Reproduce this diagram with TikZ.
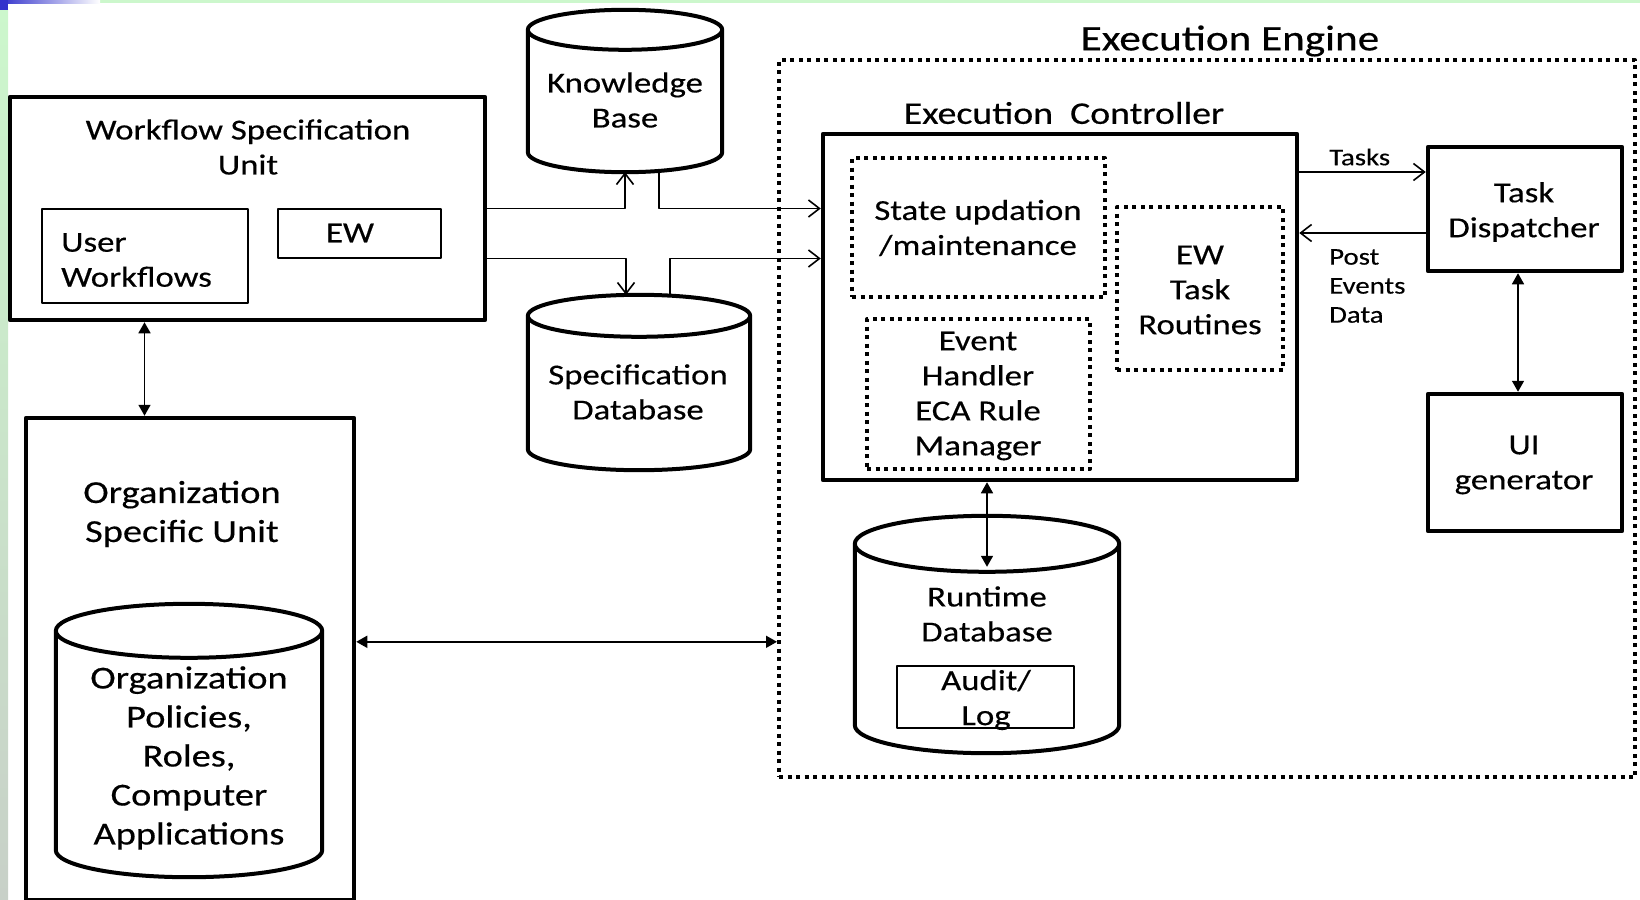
\documentclass[tikz,border=0pt]{standalone}
\usepackage{fontspec}
\setmainfont[FakeStretch=1.2, FakeBold=0.4]{Carlito}
\usetikzlibrary{arrows.meta,calc,fit}
\definecolor{slideblue}{RGB}{51,51,204}
\definecolor{slidegreen}{RGB}{204,247,204}
\definecolor{slidegray}{RGB}{200,208,200}
% outline of a database drum round a named node: #1 node, #2 half height of the lid
\newcommand{\dbdraw}[2]{%
  \draw[dbline] let \p1=(#1.north west), \p2=(#1.south east), \n1={(\x2-\x1)/2} in
    (\x1,\y1-#2) -- (\x1,\y2+#2) arc[start angle=180, end angle=360, x radius=\n1, y radius=#2]
    -- (\x2,\y1-#2) arc[start angle=0, end angle=360, x radius=\n1, y radius=#2];}
\begin{document}
\begin{tikzpicture}[x=1pt, y=-1pt, line join=round, >={Straight Barb[length=11pt,width=17pt]}]
  \tikzset{box/.style={draw, line width=4.5pt, inner sep=0pt},
    thinbox/.style={draw, line width=1.8pt, inner sep=0pt},
    dotbox/.style={draw, line width=4pt, dash pattern=on 4pt off 4.5pt, inner sep=0pt},
    dbnode/.style={inner sep=0pt},
    dbline/.style={line width=4pt},
    txt/.style={font=\fontsize{29}{35}\selectfont, align=center, inner sep=0pt},
    bigtxt/.style={font=\fontsize{32}{39}\selectfont, align=center, inner sep=0pt},
    smalltxt/.style={font=\fontsize{24}{29}\selectfont, align=left, inner sep=0pt, anchor=west},
    flow/.style={line width=1.6pt, ->},
    both/.style={line width=1.6pt, {Triangle[length=11pt,width=12pt]}-{Triangle[length=11pt,width=12pt]}}}
  \useasboundingbox (0,0) rectangle (1640,899);
  % slide border
  \fill[slidegreen] (100,0) rectangle (1640,3.5);
  \shade[left color=slideblue, right color=white] (0,0) rectangle (100,3.5);
  \shade[top color=slidegreen, bottom color=slidegray] (0,10) rectangle (8,899);
  \fill[slideblue] (0,0) rectangle (8,10);

  % workflow specification unit
  \node[box, fit={(10,97) (485,320)}] (wsu) {};
  \node[txt] (wsutitle) at (248,147) {Workflow Specification\\Unit};
  \node[thinbox, fit={(42,209) (248,303)}] (uw) {};
  \node[txt, anchor=west, align=left] (uwtext) at (61,260) {User\\Workflows};
  \node[thinbox, fit={(278,209) (441,258)}] (ew) {};
  \node[txt] (ewtext) at (350,233) {EW};

  % databases
  \node[dbnode, fit={(528,10) (722,172)}] (kb) {};
  \dbdraw{kb}{20pt}
  \node[txt] (kbtext) at (625,100) {Knowledge\\Base};
  \node[dbnode, fit={(528,295) (750,470)}] (sd) {};
  \dbdraw{sd}{21pt}
  \node[txt] (sdtext) at (638,392) {Specification\\Database};

  % execution engine
  \node[dotbox, fit={(779,60) (1635,777)}] (ee) {};
  \node[font=\fontsize{36}{40}\selectfont, inner sep=0pt] (eetitle) at (1230,41) {Execution Engine};
  \node[box, fit={(823,134) (1297,480)}] (ec) {};
  \node[font=\fontsize{31.5}{36}\selectfont, inner sep=0pt] (ectitle) at (1064,113) {Execution\ \ Controller};
  \node[dotbox, fit={(852,158) (1105,297)}] (su) {};
  \node[txt] (sutext) at (978,228) {State updation\\/maintenance};
  \node[dotbox, fit={(1117,207) (1283,370)}] (ewr) {};
  \node[txt] (ewrtext) at (1200,290) {EW\\Task\\Routines};
  \node[dotbox, fit={(867,319) (1090,469)}] (eh) {};
  \node[txt] (ehtext) at (978,396) {Event\\Handler\\ECA Rule\\Manager};
  \node[box, fit={(1428,147) (1622,271)}] (td) {};
  \node[txt] (tdtext) at (1524,212) {Task\\Dispatcher};
  \node[box, fit={(1428,394) (1622,531)}] (ui) {};
  \node[txt] (uitext) at (1524,465) {UI\\generator};
  \node[dbnode, fit={(855,516) (1119,753)}] (rt) {};
  \dbdraw{rt}{28pt}
  \node[txt] (rttext) at (987,614) {Runtime\\Database};
  \node[thinbox, fit={(897,666) (1074,728)}] (audit) {};
  \node[txt] (audittext) at (986,700) {Audit/\\Log};

  % organization specific unit
  \node[box, fit={(26,418) (354,900)}] (osu) {};
  \node[bigtxt] (osutitle) at (182,514) {Organization\\Specific Unit};
  \node[dbnode, fit={(56,604) (322,877)}] (orgdb) {};
  \dbdraw{orgdb}{27pt}
  \node[bigtxt] (orgtext) at (189,758) {Organization\\Policies,\\Roles,\\Computer\\Applications};

  % connectors
  \coordinate (rowa) at (wsu.east);
  \coordinate (rowb) at ([yshift=-50pt]wsu.east);
  \draw[flow] (rowa) -| (kb.south);
  \draw[flow] ([xshift=34pt]kb.south) |- (ec.west |- rowa);
  \draw[flow] (rowb) -| ([xshift=-13pt]sd.north);
  \draw[flow] ([xshift=31pt]sd.north) |- (ec.west |- rowb);
  \coordinate (taskrow) at ([yshift=37pt]td.west);
  \coordinate (postrow) at ([yshift=-24pt]td.west);
  \draw[flow] (ec.east |- taskrow) -- (taskrow);
  \draw[flow] (postrow) -- (ec.east |- postrow);
  \node[smalltxt] (tasks) at (1329,157) {Tasks};
  \node[smalltxt] (post) at (1329,286) {Post\\Events\\Data};
  \draw[both] ([xshift=-7pt]td.south) -- ([xshift=-7pt]ui.north);
  \draw[both] (ec.south -| rt.north) -- ([yshift=-51pt]rt.north);
  \draw[both] ([xshift=-103pt]wsu.south) -- ([xshift=-103pt]wsu.south |- osu.north);
  \coordinate (orgrow) at ([yshift=-38pt]orgdb.north);
  \draw[both] (osu.east |- orgrow) -- (ee.west |- orgrow);
\end{tikzpicture}
\end{document}
